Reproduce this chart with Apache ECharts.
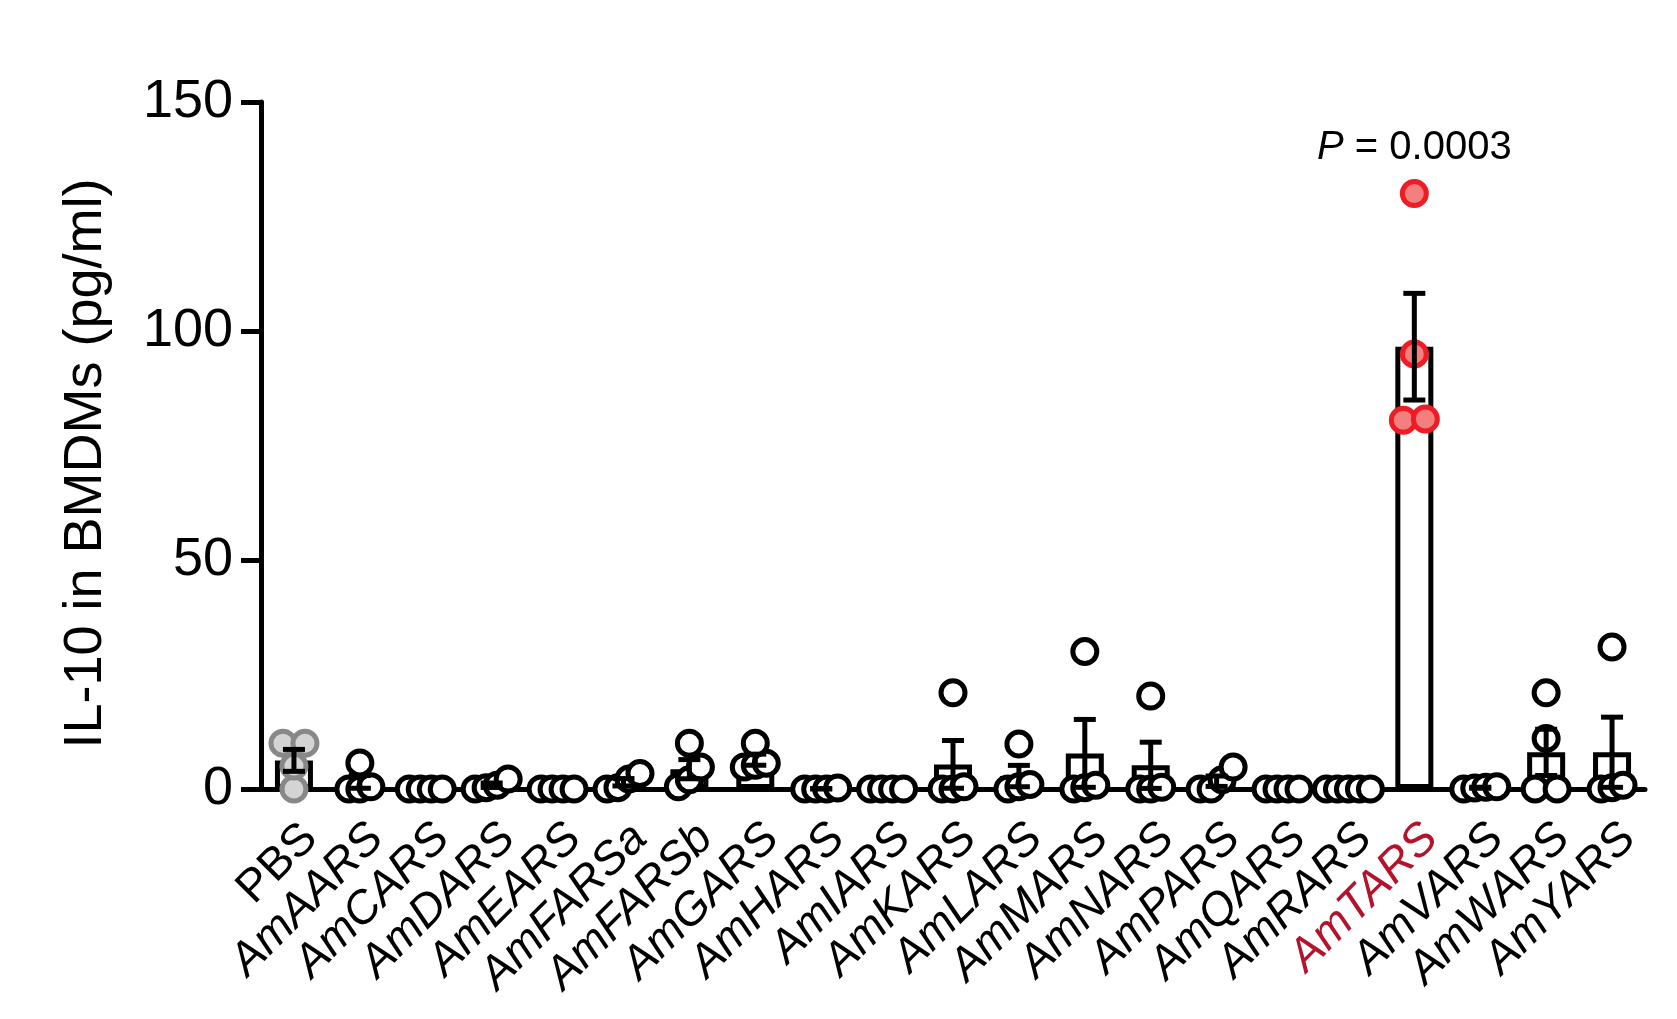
<!DOCTYPE html>
<html>
<head>
<meta charset="utf-8">
<script src="https://cdn.jsdelivr.net/npm/echarts@6/dist/echarts.min.js"></script>
</head>
<body style="margin:0;background:#fff">
<div id="chart" style="width:1677px;height:1019px"></div>
<script>
// group names on the x axis
var categories = ['PBS', 'AmAARS', 'AmCARS', 'AmDARS', 'AmEARS', 'AmFARSa', 'AmFARSb',
    'AmGARS', 'AmHARS', 'AmIARS', 'AmKARS', 'AmLARS', 'AmMARS', 'AmNARS', 'AmPARS',
    'AmQARS', 'AmRARS', 'AmTARS', 'AmVARS', 'AmWARS', 'AmYARS'];

// IL-10 replicates (pg/ml)
var replicates = [
    [0, 5, 10, 10],
    [0, 0, 0.5, 5.7],
    [0, 0, 0, 0],
    [0, 0.3, 0.8, 2.2],
    [0, 0, 0, 0],
    [0, 0.3, 2.2, 3.4],
    [0.5, 2, 4.8, 10],
    [4.8, 5.2, 5.6, 10],
    [0, 0, 0, 0.2],
    [0, 0, 0, 0],
    [0, 0, 0.5, 21],
    [0, 0.5, 1, 9.8],
    [0, 0.3, 0.8, 30],
    [0, 0, 0.4, 20.3],
    [0, 0, 2, 4.8],
    [0, 0, 0, 0],
    [0, 0, 0, 0, 0],
    [80.5, 80.8, 95, 130],
    [0, 0.2, 0.4, 0.5],
    [0, 0, 11, 21],
    [0, 0.3, 0.8, 31]
];

var yTicks = [0, 50, 100, 150];
var pLabel = 'P = 0.0003';
var highlight = 'AmTARS';

// mean and SEM per group
var means = replicates.map(function (r) {
    return r.reduce(function (a, b) { return a + b; }, 0) / r.length;
});
var sems = replicates.map(function (r, i) {
    var m = means[i];
    var ss = r.reduce(function (a, b) { return a + (b - m) * (b - m); }, 0);
    return Math.sqrt(ss / (r.length - 1)) / Math.sqrt(r.length);
});

var FONT = 'Liberation Sans, Arial, sans-serif';
var R = 12;
var LW = 5;

function dotColors(name) {
    if (name === 'PBS') return { fill: '#d4d4d4', stroke: '#888888' };
    if (name === highlight) return { fill: '#f47f7f', stroke: '#ee1c25' };
    return { fill: '#ffffff', stroke: '#000000' };
}

var chart = echarts.init(document.getElementById('chart'));

chart.setOption({
    animation: false,
    backgroundColor: '#fff',
    grid: { left: 261, right: 32, top: 102, bottom: 230 },
    xAxis: {
        type: 'category',
        data: categories,
        axisLine: { lineStyle: { color: '#000', width: LW } },
        axisTick: { alignWithLabel: true, length: 16, lineStyle: { color: '#000', width: LW } },
        axisLabel: {
            rotate: 45,
            margin: 26,
            interval: 0,
            verticalAlign: 'top',
            fontFamily: FONT,
            fontSize: 46,
            color: '#000',
            formatter: function (v) {
                if (v === 'PBS') return '{n|' + v + '}';
                if (v === highlight) return '{r|' + v + '}';
                return '{i|' + v + '}';
            },
            rich: {
                n: { fontFamily: FONT, fontSize: 46, color: '#000' },
                i: { fontFamily: FONT, fontSize: 46, color: '#000', fontStyle: 'italic' },
                r: { fontFamily: FONT, fontSize: 46, color: '#b3132b', fontStyle: 'italic' }
            }
        }
    },
    yAxis: {
        type: 'value',
        min: yTicks[0],
        max: yTicks[yTicks.length - 1],
        interval: 50,
        name: 'IL-10 in BMDMs (pg/ml)',
        nameLocation: 'middle',
        nameGap: 148,
        nameTextStyle: { fontFamily: FONT, fontSize: 54, color: '#000', padding: [0, 36, 0, 0] },
        axisLine: { show: true, lineStyle: { color: '#000', width: LW } },
        axisTick: { show: true, length: 20, lineStyle: { color: '#000', width: LW } },
        axisLabel: { margin: 28, fontFamily: FONT, fontSize: 54, color: '#000' },
        splitLine: { show: false }
    },
    series: [
        {
            type: 'bar',
            data: means,
            barWidth: 38,
            z: 2,
            itemStyle: { color: '#fff', borderColor: '#000', borderWidth: LW }
        },
        {
            // individual replicates, spread sideways where they overlap
            type: 'custom',
            z: 3,
            data: categories.map(function (c, i) { return [i, Math.max.apply(null, replicates[i])]; }),
            renderItem: function (params, api) {
                var idx = api.value(0);
                var col = dotColors(categories[idx]);
                var pts = replicates[idx].map(function (v) {
                    var p = api.coord([idx, v]);
                    return { x: p[0], y: p[1] };
                }).sort(function (a, b) { return b.y - a.y; });
                // cluster points that sit close together
                var clusters = [];
                pts.forEach(function (p) {
                    var last = clusters[clusters.length - 1];
                    if (last && Math.abs(last[last.length - 1].y - p.y) < 1.3 * R) last.push(p);
                    else clusters.push([p]);
                });
                var children = [];
                clusters.forEach(function (cl) {
                    var step = cl.length > 2 ? 11 : 22;
                    cl.forEach(function (p, j) {
                        var dx = (j - (cl.length - 1) / 2) * step;
                        children.push({
                            type: 'circle',
                            shape: { cx: p.x + dx, cy: p.y, r: R },
                            style: { fill: col.fill, stroke: col.stroke, lineWidth: LW }
                        });
                    });
                });
                return { type: 'group', children: children };
            }
        },
        {
            // mean +/- SEM
            type: 'custom',
            z: 4,
            data: categories.map(function (c, i) { return [i, means[i] + sems[i]]; }),
            renderItem: function (params, api) {
                var idx = api.value(0);
                if (sems[idx] === 0) return null;
                var top = api.coord([idx, means[idx] + sems[idx]]);
                var bot = api.coord([idx, Math.max(0, means[idx] - sems[idx])]);
                var cap = 11;
                var st = { stroke: '#000', lineWidth: LW };
                return {
                    type: 'group',
                    children: [
                        { type: 'line', shape: { x1: top[0], y1: top[1], x2: bot[0], y2: bot[1] }, style: st },
                        { type: 'line', shape: { x1: top[0] - cap, y1: top[1], x2: top[0] + cap, y2: top[1] }, style: st },
                        { type: 'line', shape: { x1: bot[0] - cap, y1: bot[1], x2: bot[0] + cap, y2: bot[1] }, style: st }
                    ]
                };
            }
        },
        {
            type: 'scatter',
            symbolSize: 0,
            silent: true,
            itemStyle: { opacity: 1 },
            data: [[highlight, 140]],
            label: {
                show: true,
                position: 'inside',
                color: '#000',
                formatter: '{p|P}{t|' + pLabel.slice(1) + '}',
                rich: {
                    p: { fontFamily: FONT, fontSize: 40, color: '#000', fontStyle: 'italic' },
                    t: { fontFamily: FONT, fontSize: 40, color: '#000' }
                }
            }
        }
    ]
});
</script>
</body>
</html>
